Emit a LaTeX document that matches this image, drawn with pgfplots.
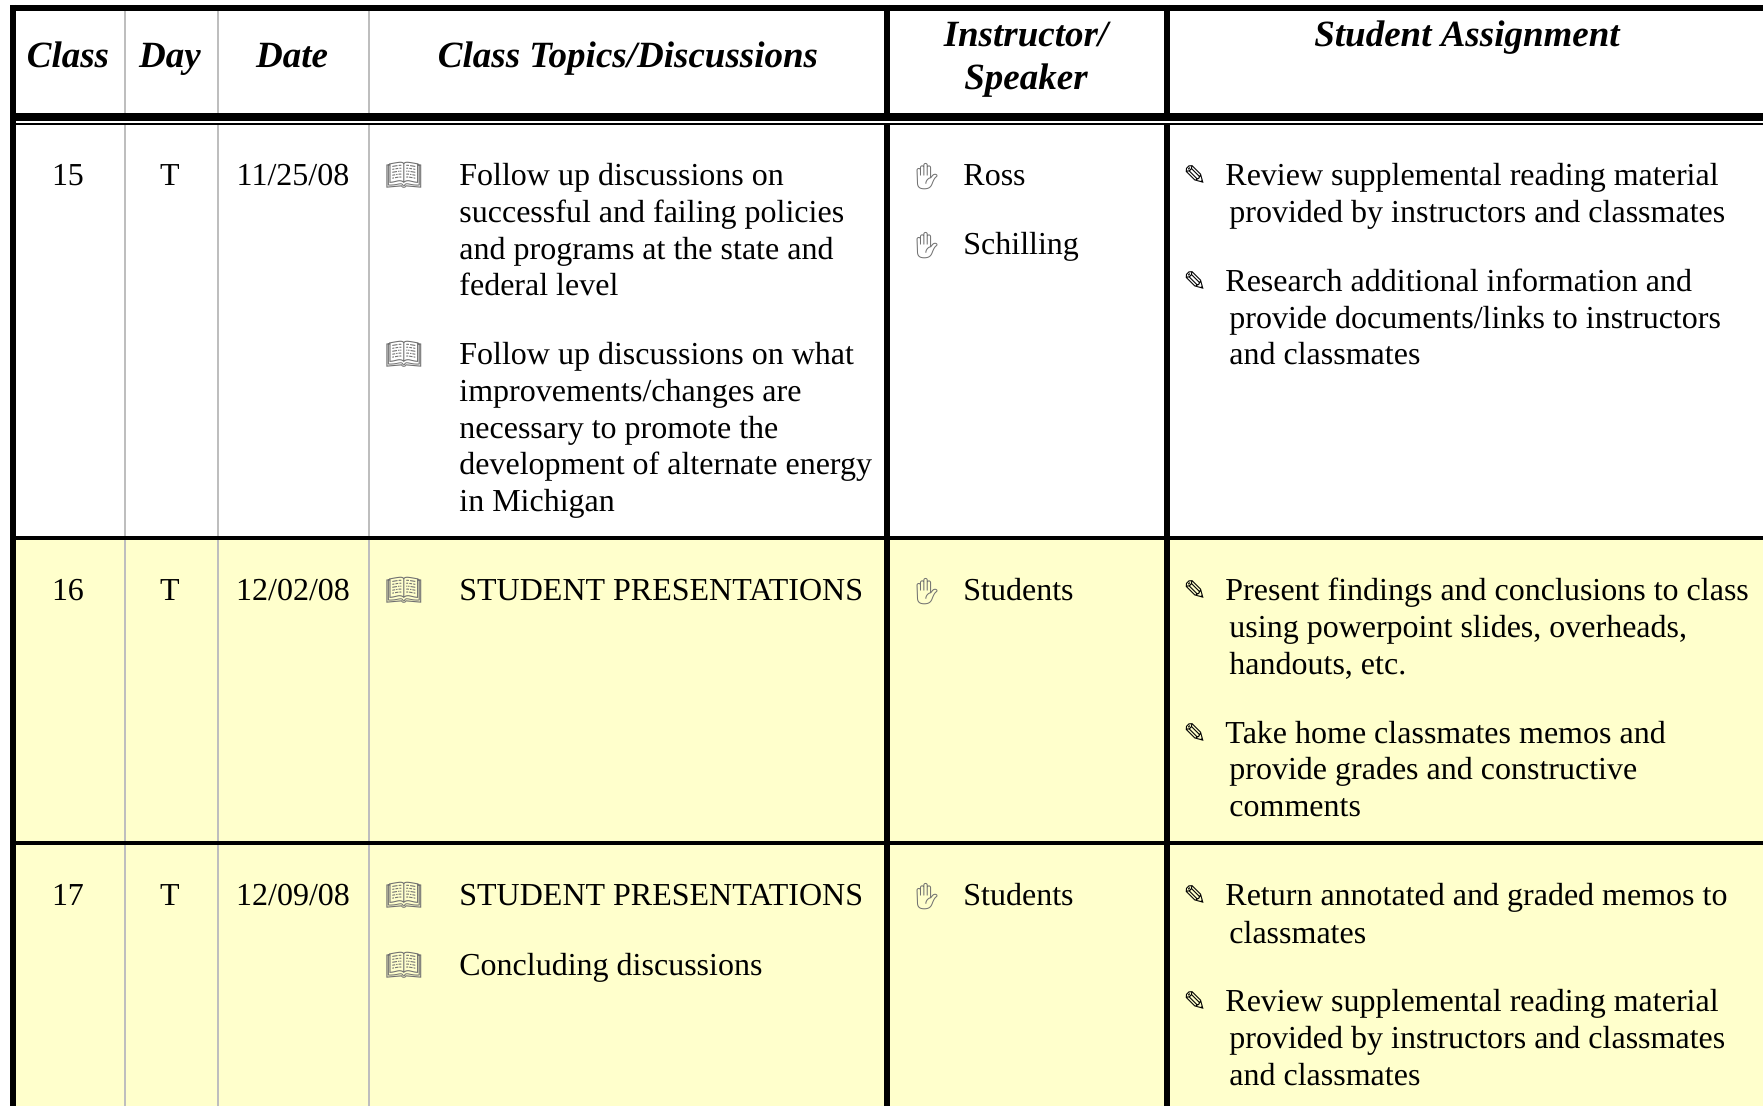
\documentclass[border=0pt]{standalone}
\usepackage{pgfplots}
\pgfplotsset{compat=1.18}
\usepackage{fontspec}
\setmainfont{Liberation Serif}
\newfontfamily\sym{DejaVu Sans}
\newfontfamily\emo{Noto Emoji}
\definecolor{rowy}{HTML}{FFFFCC}
\definecolor{gridg}{HTML}{BEBEBE}
\definecolor{icong}{HTML}{707070}
\newcommand{\B}[3]{\node[anchor=base west,inner sep=0pt,font=\fontsize{16}{18}\selectfont] at (axis cs:#1,#2) {#3};}
\newcommand{\C}[3]{\node[anchor=base,inner sep=0pt,font=\fontsize{16}{18}\selectfont] at (axis cs:#1,#2) {#3};}
\newcommand{\Hd}[3]{\node[anchor=base,inner sep=0pt,font=\fontsize{18.5}{20}\selectfont\bfseries\itshape] at (axis cs:#1,#2) {#3};}
\newcommand{\Bk}[1]{\node[anchor=base,inner sep=0pt,text=icong,font=\fontsize{15}{18}\emo] at (axis cs:404,#1) {📖};}
\newcommand{\Hn}[1]{\node[anchor=base,inner sep=0pt,text=icong,font=\fontsize{13}{18}\emo] at (axis cs:927,#1) {✋};}
\newcommand{\Pn}[1]{\node[anchor=base,inner sep=0pt,font=\fontsize{14}{18}\sym] at (axis cs:1195,#1) {✎};}
\begin{document}
\begin{tikzpicture}
\begin{axis}[scale only axis,width=881.5pt,height=553pt,xmin=0,xmax=1763,ymin=0,ymax=1106,y dir=reverse,hide axis,clip=true]
% backgrounds
\addplot[fill=white,draw=none] coordinates {(0,0)(1763,0)(1763,1106)(0,1106)} -- cycle;
\addplot[fill=rowy,draw=none] coordinates {(16,538)(1763,538)(1763,1106)(16,1106)} -- cycle;
% thin grey columns
\addplot[gridg,line width=1pt] coordinates {(125,11)(125,113)};
\addplot[gridg,line width=1pt] coordinates {(218,11)(218,113)};
\addplot[gridg,line width=1pt] coordinates {(369,11)(369,113)};
\addplot[gridg,line width=1pt] coordinates {(125,125)(125,1106)};
\addplot[gridg,line width=1pt] coordinates {(218,125)(218,1106)};
\addplot[gridg,line width=1pt] coordinates {(369,125)(369,1106)};
% thick columns
\addplot[black,line width=3pt] coordinates {(13,5)(13,1106)};
\addplot[black,line width=3pt] coordinates {(887,5)(887,1106)};
\addplot[black,line width=3pt] coordinates {(1167,5)(1167,1106)};
% rules
\addplot[black,line width=3pt] coordinates {(10,8)(1763,8)};
\addplot[black,line width=4pt] coordinates {(10,117)(1763,117)};
\addplot[white,line width=1pt] coordinates {(16,122)(1763,122)};
\addplot[black,line width=1pt] coordinates {(16,124)(1763,124)};
\addplot[black,line width=2pt] coordinates {(16,538)(1763,538)};
\addplot[black,line width=2pt] coordinates {(16,843)(1763,843)};
% header
\Hd{68}{68}{Class}
\Hd{170}{68}{Day}
\Hd{292}{68}{Date}
\Hd{628}{68}{Class Topics/Discussions}
\Hd{1026}{47}{Instructor/}
\Hd{1026}{90}{Speaker}
\Hd{1467}{47}{Student Assignment}
% row 15
\C{68}{186}{15}\C{170}{186}{T}\C{293}{186}{11/25/08}
\Bk{186}
\B{459}{186}{Follow up discussions on}
\B{459}{222.7}{successful and failing policies}
\B{459}{259.5}{and programs at the state and}
\B{459}{296}{federal level}
\Bk{365}
\B{459}{365}{Follow up discussions on what}
\B{459}{401.7}{improvements/changes are}
\B{459}{438.5}{necessary to promote the}
\B{459}{475}{development of alternate energy}
\B{459}{511.7}{in Michigan}
\Hn{186}\B{963}{186}{Ross}
\Hn{255}\B{963}{255}{Schilling}
\Pn{186}\B{1225}{186}{Review supplemental reading material}
\B{1229}{222.7}{provided by instructors and classmates}
\Pn{292}\B{1225}{292}{Research additional information and}
\B{1229}{328.5}{provide documents/links to instructors}
\B{1229}{365}{and classmates}
% row 16
\C{68}{601}{16}\C{170}{601}{T}\C{293}{601}{12/02/08}
\Bk{601}\B{459}{601}{STUDENT PRESENTATIONS}
\Hn{601}\B{963}{601}{Students}
\Pn{601}\B{1225}{601}{Present findings and conclusions to class}
\B{1229}{638}{using powerpoint slides, overheads,}
\B{1229}{675}{handouts, etc.}
\Pn{743.5}\B{1225}{743.5}{Take home classmates memos and}
\B{1229}{780}{provide grades and constructive}
\B{1229}{817}{comments}
% row 17
\C{68}{906}{17}\C{170}{906}{T}\C{293}{906}{12/09/08}
\Bk{906}\B{459}{906}{STUDENT PRESENTATIONS}
\Bk{975.5}\B{459}{975.5}{Concluding discussions}
\Hn{906}\B{963}{906}{Students}
\Pn{906}\B{1225}{906}{Return annotated and graded memos to}
\B{1229}{943}{classmates}
\Pn{1011.5}\B{1225}{1011.5}{Review supplemental reading material}
\B{1229}{1048}{provided by instructors and classmates}
\B{1229}{1085}{and classmates}
\end{axis}
\end{tikzpicture}
\end{document}
